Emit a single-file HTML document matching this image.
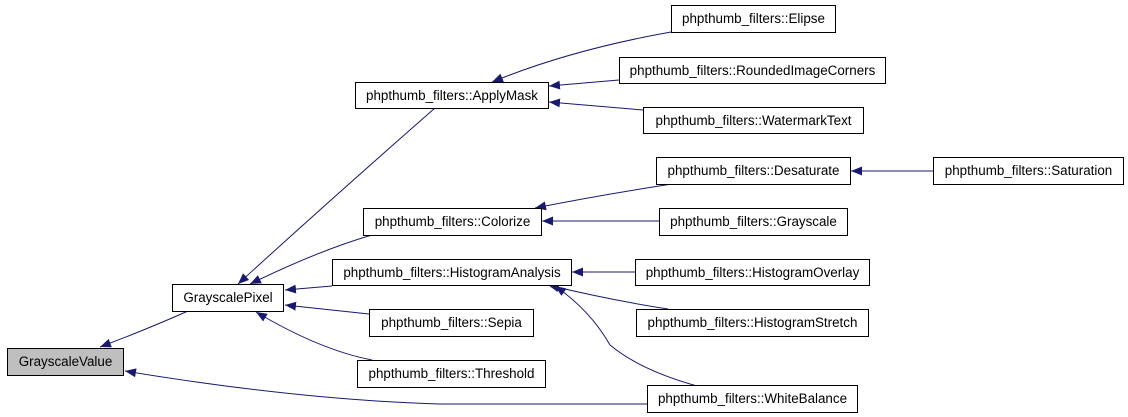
<!DOCTYPE html>
<html><head><meta charset="utf-8"><style>
html,body{margin:0;padding:0;background:#fff;}
svg{display:block;}
text{font-family:"Liberation Sans",sans-serif;font-size:13.4px;fill:#000;}
</style></head><body>
<svg width="1128" height="417" viewBox="0 0 1128 417" xmlns="http://www.w3.org/2000/svg">
<defs>
<marker id="a" viewBox="0 0 11 9" refX="11" refY="4.5" markerWidth="11" markerHeight="9" markerUnits="userSpaceOnUse" orient="auto">
<path d="M0,0 L11,4.5 L0,9 Z" fill="#191970"/>
</marker>
</defs>
<g fill="none" stroke="#191970" stroke-width="1" marker-end="url(#a)">
<path d="M188,311 Q150,328 100,347"/>
<path d="M647,404 L440,404 Q300,400 125,371"/>
<path d="M435,108 Q330,200 238,284"/>
<path d="M372,235 Q320,250 250,284"/>
<path d="M332,286 L285,290"/>
<path d="M369,314 L285,305"/>
<path d="M372,360 Q320,350 256,312"/>
<path d="M671,32 Q570,50 492,82"/>
<path d="M619,80 L549,86"/>
<path d="M643,110 L549,102"/>
<path d="M672,184 Q600,195 535,208"/>
<path d="M659,221 L542,221"/>
<path d="M933,171 L851,171"/>
<path d="M635,272 L572,272"/>
<path d="M668,309 Q610,300 548,285"/>
<path d="M697,386 Q640,370 610,345 Q590,310 555,286"/>
</g>
<g stroke="#000" stroke-width="1">
<rect x="7.5" y="348.5" width="116" height="27" fill="#bfbfbf"/>
<rect x="172.5" y="284.5" width="111" height="27" fill="#fff"/>
<rect x="355.5" y="82.5" width="193" height="26" fill="#fff"/>
<rect x="363.5" y="208.5" width="178" height="27" fill="#fff"/>
<rect x="332.5" y="259.5" width="239" height="26" fill="#fff"/>
<rect x="369.5" y="309.5" width="164" height="27" fill="#fff"/>
<rect x="357.5" y="360.5" width="188" height="27" fill="#fff"/>
<rect x="671.5" y="5.5" width="164" height="27" fill="#fff"/>
<rect x="619.5" y="57.5" width="266" height="26" fill="#fff"/>
<rect x="643.5" y="107.5" width="220" height="26" fill="#fff"/>
<rect x="656.5" y="157.5" width="194" height="27" fill="#fff"/>
<rect x="933.5" y="157.5" width="190" height="27" fill="#fff"/>
<rect x="659.5" y="208.5" width="188" height="27" fill="#fff"/>
<rect x="635.5" y="259.5" width="234" height="26" fill="#fff"/>
<rect x="636.5" y="309.5" width="232" height="27" fill="#fff"/>
<rect x="647.5" y="385.5" width="210" height="27" fill="#fff"/>
</g>
<g text-anchor="middle">
<text x="65.5" y="366">GrayscaleValue</text>
<text x="228" y="302">GrayscalePixel</text>
<text x="452" y="100">phpthumb_filters::ApplyMask</text>
<text x="452.5" y="226">phpthumb_filters::Colorize</text>
<text x="452" y="277">phpthumb_filters::HistogramAnalysis</text>
<text x="451.5" y="327">phpthumb_filters::Sepia</text>
<text x="451.5" y="378">phpthumb_filters::Threshold</text>
<text x="753.5" y="23">phpthumb_filters::Elipse</text>
<text x="752.5" y="75">phpthumb_filters::RoundedImageCorners</text>
<text x="753.5" y="125">phpthumb_filters::WatermarkText</text>
<text x="753.5" y="175">phpthumb_filters::Desaturate</text>
<text x="1028.5" y="175">phpthumb_filters::Saturation</text>
<text x="753.5" y="226">phpthumb_filters::Grayscale</text>
<text x="752.5" y="277">phpthumb_filters::HistogramOverlay</text>
<text x="752.5" y="327">phpthumb_filters::HistogramStretch</text>
<text x="752.5" y="403">phpthumb_filters::WhiteBalance</text>
</g>
</svg>
</body></html>
